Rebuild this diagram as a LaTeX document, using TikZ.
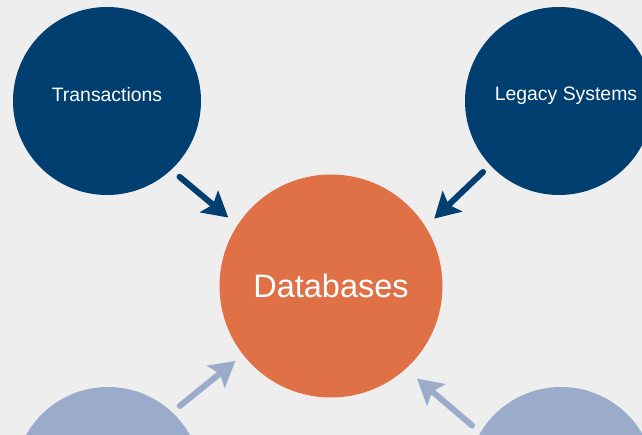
\documentclass[tikz,border=0pt]{standalone}
\usepackage{fontspec}
\setmainfont{Liberation Sans}
\usetikzlibrary{arrows.meta}

\definecolor{darkblue}{RGB}{0,63,112}
\definecolor{dbOrange}{RGB}{224,112,70}
\definecolor{paleblue}{RGB}{155,172,203}
\definecolor{bgGray}{RGB}{238,238,238}

\tikzset{
    bubble/.style={circle, inner sep=0pt, outer sep=0pt, text=white},
    feed/.style={line width=6pt, line cap=round,
        -{Stealth[length=25pt, width=28pt, inset=5pt]},
        shorten <=11pt, shorten >=12pt},
}

\begin{document}
\begin{tikzpicture}[x=1pt, y=-1pt]
    % Canvas
    \useasboundingbox (0,0) rectangle (642,435);
    \fill[bgGray] (0,0) rectangle (642,435);
    \clip (0,0) rectangle (642,435);

    % Sources
    \node[bubble, fill=darkblue, minimum size=188pt, font=\fontsize{19.4}{22}\selectfont] (trans) at (107,101) {\raisebox{14pt}{Transactions}};
    \node[bubble, fill=darkblue, minimum size=188pt, font=\fontsize{19.4}{22}\selectfont] (legacy) at (559,101) {\hspace{14pt}\raisebox{14pt}{Legacy Systems}};
    \node[bubble, fill=paleblue, minimum size=188pt] (lowleft) at (108,481) {};
    \node[bubble, fill=paleblue, minimum size=188pt] (lowright) at (561,481) {};

    % Target
    \node[bubble, fill=dbOrange, minimum size=223pt, font=\fontsize{32.5}{36}\selectfont] (db) at (331,286) {\raisebox{-3pt}{Databases}};

    % Arrows into the database
    \draw[feed, darkblue] (trans.-47) -- (db.147);
    \draw[feed, darkblue, shorten <=10pt] (legacy.223) -- (db.32);
    \draw[feed, paleblue, shorten <=10pt, shorten >=10pt] (lowleft.47) -- (db.218);
    \draw[feed, paleblue, shorten >=15pt] (lowright.149) -- (db.-48);
\end{tikzpicture}
\end{document}
